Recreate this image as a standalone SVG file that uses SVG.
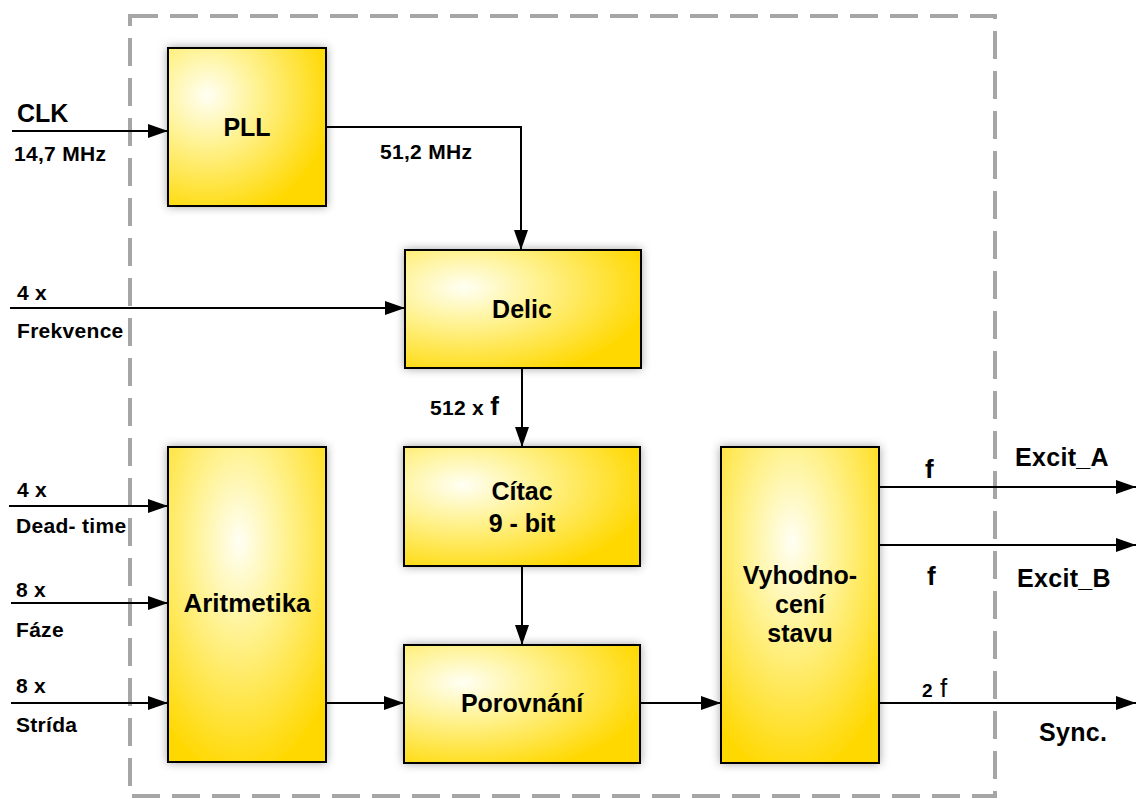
<svg xmlns="http://www.w3.org/2000/svg" width="1137" height="799" viewBox="0 0 1137 799">
<style>
.box{stroke:#000;stroke-width:2;filter:url(#sh)}
.conn{fill:none;stroke:#000;stroke-width:2}
.arr{marker-end:url(#ah)}
text{font-family:"Liberation Sans",Arial,sans-serif;font-weight:bold;fill:#000}
.lbl{font-size:21px;letter-spacing:0.3px}
.big{font-size:25px}
.ex{font-size:25px;letter-spacing:0.3px}
.mid{text-anchor:middle}
</style>
<defs>
<radialGradient id="gw" cx="0.25" cy="0.32" r="0.8" fx="0.25" fy="0.32">
<stop offset="0" stop-color="#fffff4"/>
<stop offset="0.4" stop-color="#fff290"/>
<stop offset="1" stop-color="#ffd800"/>
</radialGradient>
<radialGradient id="gt" cx="0.45" cy="0.3" r="0.75" fx="0.45" fy="0.3">
<stop offset="0" stop-color="#fffff4"/>
<stop offset="0.4" stop-color="#fff290"/>
<stop offset="1" stop-color="#ffd800"/>
</radialGradient>
<radialGradient id="gp" cx="0.25" cy="0.3" r="0.8" fx="0.25" fy="0.3">
<stop offset="0" stop-color="#fffff4"/>
<stop offset="0.4" stop-color="#fff290"/>
<stop offset="1" stop-color="#ffd800"/>
</radialGradient>
<filter id="sh" x="-20%" y="-20%" width="140%" height="140%">
<feDropShadow dx="0" dy="0" stdDeviation="5" flood-color="#000" flood-opacity="0.35"/>
</filter>
<marker id="ah" markerUnits="userSpaceOnUse" markerWidth="20" markerHeight="14" refX="20" refY="7" orient="auto">
<path d="M0,0 L20,7 L0,14 z" fill="#000"/>
</marker>
</defs>
<rect width="1137" height="799" fill="#fff"/>
<rect id="frame" x="130" y="16" width="865" height="780" fill="none" stroke="#a6a6a6" stroke-width="4" stroke-dasharray="28 12"/>

<g id="pll"><rect class="box" x="168" y="48" width="158" height="158" fill="url(#gp)"/><text class="big mid" x="247" y="136">PLL</text></g>
<g id="delic"><rect class="box" x="405" y="250" width="236" height="118" fill="url(#gw)"/><text class="big mid" x="522" y="318">Delic</text></g>
<g id="citac"><rect class="box" x="404" y="447" width="236" height="119" fill="url(#gw)"/><text class="big mid" x="522" y="500">Cítac</text><text class="big mid" x="522" y="532">9 - bit</text></g>
<g id="porovnani"><rect class="box" x="404" y="645" width="236" height="118" fill="url(#gw)"/><text class="big mid" x="522" y="712">Porovnání</text></g>
<g id="aritmetika"><rect class="box" x="168" y="447" width="158" height="315" fill="url(#gt)"/><text class="big mid" x="247" y="612" style="font-size:26px">Aritmetika</text></g>
<g id="vyhodnoceni"><rect class="box" x="721" y="447" width="158" height="316" fill="url(#gt)"/><text class="big mid" x="800" y="584">Vyhodno-</text><text class="big mid" x="800" y="613">cení</text><text class="big mid" x="800" y="642">stavu</text></g>

<g id="connectors">
<path class="conn arr" d="M12,131 H168"/>
<path class="conn arr" d="M326,127 H521 V250"/>
<path class="conn arr" d="M10,308 H405"/>
<path class="conn arr" d="M522,368 V447"/>
<path class="conn arr" d="M522,566 V645"/>
<path class="conn arr" d="M9,506 H168"/>
<path class="conn arr" d="M11,603 H168"/>
<path class="conn arr" d="M11,703 H168"/>
<path class="conn arr" d="M326,703 H404"/>
<path class="conn arr" d="M640,703 H721"/>
<path class="conn arr" d="M879,487 H1136"/>
<path class="conn arr" d="M879,545 H1136"/>
<path class="conn arr" d="M879,703 H1136"/>
</g>

<g id="labels">
<text style="font-size:25px" x="17" y="122">CLK</text>
<text class="lbl" x="14" y="161">14,7 MHz</text>
<text class="lbl" x="380" y="159">51,2 MHz</text>
<text class="lbl" x="17" y="300">4 x</text>
<text class="lbl" x="17" y="338">Frekvence</text>
<text class="lbl" x="430" y="415">512 x <tspan style="font-size:26px">f</tspan></text>
<text class="lbl" x="17" y="497">4 x</text>
<text class="lbl" x="16" y="533">Dead- time</text>
<text class="lbl" x="16" y="597">8 x</text>
<text class="lbl" x="16" y="637">Fáze</text>
<text class="lbl" x="16" y="693">8 x</text>
<text class="lbl" x="16" y="732">Strída</text>
<text style="font-size:26px" x="925" y="478">f</text>
<text class="ex" x="1015" y="466">Excit_A</text>
<text style="font-size:26px" x="927" y="585">f</text>
<text class="ex" x="1017" y="587">Excit_B</text>
<text style="font-size:19px" x="922" y="697">2</text>
<text style="font-size:26px;font-weight:normal" x="940" y="697">f</text>
<text class="ex" x="1039" y="741">Sync.</text>
</g>
</svg>
